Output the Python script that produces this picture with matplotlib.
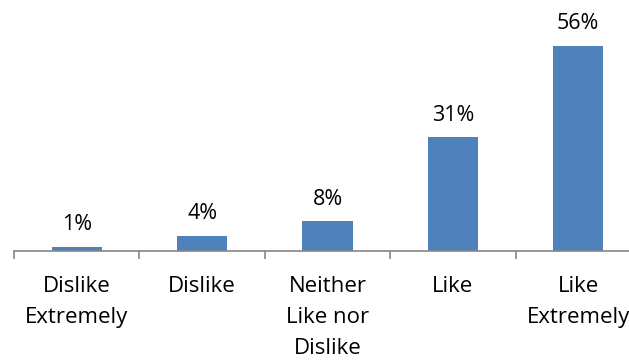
import matplotlib.pyplot as plt

categories = ["Dislike\nExtremely", "Dislike", "Neither\nLike nor\nDislike", "Like", "Like\nExtremely"]
values = [1, 4, 8, 31, 56]
labels = ["1%", "4%", "8%", "31%", "56%"]

plt.rcParams['font.family'] = ['Open Sans', 'DejaVu Sans']

W, H = 629, 361
fig = plt.figure(figsize=(W / 100, H / 100), dpi=100)
# axes spans 5 categories of ~125.4 px, starting at x=14; right side runs past the figure edge
left = 14 / W
width = 627 / W
bottom = (H - 250.5) / H
height = 250.5 / H
ax = fig.add_axes([left, bottom, width, height])

x = range(len(categories))
bars = ax.bar(x, values, width=0.4, color='#4F81BD', zorder=2)
for xi, v, lab in zip(x, values, labels):
    ax.annotate(lab, (xi, v), xytext=(0, 12), textcoords='offset points',
                ha='center', va='baseline', fontsize=15.5)

ax.set_xlim(-0.5, 4.5)
ax.set_ylim(0, 68.6)
for s in ['top', 'right', 'left']:
    ax.spines[s].set_visible(False)
ax.spines['bottom'].set_color('#868686')
ax.spines['bottom'].set_linewidth(1.2)
ax.set_yticks([])
ax.set_xticks([-0.5, 0.5, 1.5, 2.5, 3.5, 4.5])
ax.set_xticklabels([])
ax.tick_params(axis='x', length=6, width=1.2, color='#868686')
ax.set_xticks(list(x), minor=True)
ax.set_xticklabels(categories, minor=True, fontsize=16, linespacing=1.65)
ax.tick_params(axis='x', which='minor', length=0, pad=18)

fig.savefig('out.png', dpi=100)
